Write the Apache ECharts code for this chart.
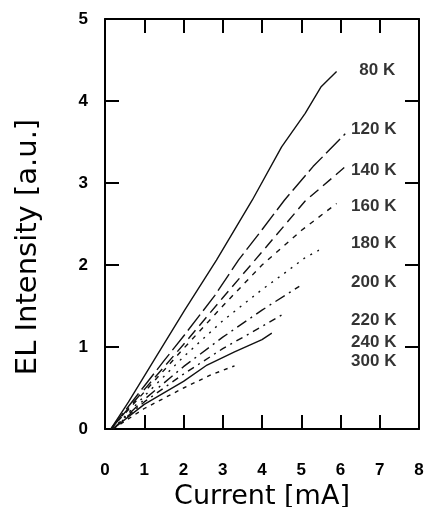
<!DOCTYPE html>
<html>
<head>
<meta charset="utf-8">
<script src="https://cdn.jsdelivr.net/npm/echarts@6/dist/echarts.min.js"></script>
<style>
  html, body { margin: 0; padding: 0; background: #fff; }
  #chart { width: 431px; height: 507px; }
</style>
</head>
<body>
<div id="chart"></div>
<script>
// temperatures, top curve first
const temps = ['80 K', '120 K', '140 K', '160 K', '180 K', '200 K', '220 K', '240 K', '300 K'];

// [current mA, EL intensity a.u.]
const k80 = [[0.15, 0], [0.6, 0.33], [1.3, 0.88], [2.03, 1.45], [2.84, 2.06], [3.75, 2.79], [4.5, 3.44], [5.1, 3.85], [5.5, 4.17], [5.9, 4.36]];
const k120 = [[0.15, 0], [0.8, 0.4], [1.5, 0.83], [2.03, 1.15], [2.8, 1.63], [3.4, 2.06], [4.0, 2.43], [4.57, 2.79], [5.3, 3.2], [6.12, 3.6]];
const k140 = [[0.15, 0], [1.0, 0.48], [2.0, 1.03], [3.0, 1.6], [4.0, 2.16], [5.1, 2.78], [6.1, 3.19]];
const k160 = [[0.15, 0], [1.0, 0.45], [2.0, 0.98], [3.0, 1.5], [4.0, 2.0], [5.0, 2.42], [5.9, 2.75]];
const k180 = [[0.2, 0], [1.0, 0.4], [2.0, 0.88], [3.0, 1.32], [4.0, 1.7], [4.6, 1.91], [5.1, 2.09], [5.45, 2.18]];
const k200 = [[0.2, 0], [1.0, 0.36], [2.0, 0.76], [3.0, 1.12], [4.0, 1.45], [4.95, 1.74]];
const k220 = [[0.2, 0], [1.0, 0.33], [2.0, 0.67], [3.0, 0.98], [4.0, 1.25], [4.5, 1.39]];
const k240 = [[0.2, 0], [1.0, 0.3], [2.0, 0.58], [2.6, 0.78], [3.3, 0.94], [4.0, 1.09], [4.25, 1.17]];
const k300 = [[0.2, 0], [1.0, 0.25], [2.0, 0.5], [2.7, 0.66], [3.3, 0.77]];

// where each curve's label sits (data coords, left edge / middle)
const labelCurrent = [6.48, 6.27, 6.27, 6.27, 6.27, 6.27, 6.27, 6.27, 6.27];
const labelIntensity = [4.37, 3.66, 3.16, 2.71, 2.26, 1.79, 1.32, 1.06, 0.83];

const xTicks = [0, 1, 2, 3, 4, 5, 6, 7, 8];
const yTicks = [0, 1, 2, 3, 4, 5];

const curves = [k80, k120, k140, k160, k180, k200, k220, k240, k300];
const dashes = ['solid', [20, 5], [11, 6], [5, 6], [2, 6], [11, 5, 2, 5], [7, 5, 2, 5], 'solid', [4, 5]];

const chart = echarts.init(document.getElementById('chart'));

const tick = { show: true, inside: true, length: 14, lineStyle: { color: '#000', width: 2 } };
const frame = { show: true, onZero: false, lineStyle: { color: '#000', width: 2 } };
const tickFont = { color: '#000', fontSize: 17, fontWeight: 'bold', fontFamily: 'Liberation Sans, Arial, sans-serif' };
const titleFont = { color: '#000', fontSize: 27, fontFamily: 'DejaVu Sans, sans-serif' };

const xBase = { type: 'value', min: xTicks[0], max: xTicks[xTicks.length - 1], interval: 1, splitLine: { show: false }, axisLine: frame, axisTick: tick };
const yBase = { type: 'value', min: yTicks[0], max: yTicks[yTicks.length - 1], interval: 1, splitLine: { show: false }, axisLine: frame, axisTick: tick };

const lineSeries = curves.map((d, i) => ({
  type: 'line',
  name: temps[i],
  data: d,
  showSymbol: false,
  lineStyle: { color: '#111', width: 1.4, type: dashes[i] },
  z: 2
}));

const labelSeries = {
  type: 'scatter',
  symbolSize: 0,
  silent: true,
  data: temps.map((t, i) => ({ name: t, value: [labelCurrent[i], labelIntensity[i]] })),
  label: {
    show: true,
    position: 'right',
    distance: 0,
    formatter: p => p.name,
    color: '#000',
    fontSize: 17,
    fontWeight: 'bold',
    fontFamily: 'Liberation Sans, Arial, sans-serif'
  }
};

chart.setOption({
  animation: false,
  grid: { left: 105, right: 12, top: 19, bottom: 78, containLabel: false, outerBoundsMode: 'none' },
  xAxis: [
    Object.assign({}, xBase, {
      position: 'bottom',
      name: 'Current [mA]',
      nameLocation: 'middle',
      nameGap: 52,
      nameTextStyle: titleFont,
      axisLabel: Object.assign({ margin: 33 }, tickFont)
    }),
    Object.assign({}, xBase, { position: 'top', axisLabel: { show: false } })
  ],
  yAxis: [
    Object.assign({}, yBase, {
      position: 'left',
      name: 'EL Intensity [a.u.]',
      nameLocation: 'middle',
      nameGap: 62,
      nameTextStyle: Object.assign({ padding: [0, 46, 0, 0] }, titleFont, { fontSize: 29 }),
      axisLabel: Object.assign({ margin: 17 }, tickFont)
    }),
    Object.assign({}, yBase, { position: 'right', axisLabel: { show: false } })
  ],
  series: lineSeries.concat([labelSeries])
});
</script>
</body>
</html>
